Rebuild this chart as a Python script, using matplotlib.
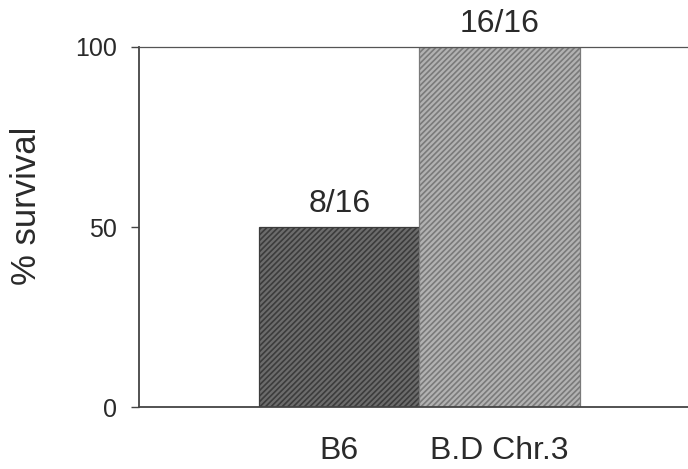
import matplotlib
matplotlib.use("Agg")
import matplotlib.pyplot as plt

categories = ["B6", "B.D Chr.3"]
survival = [50, 100]
bar_labels = ["8/16", "16/16"]
yticks = [0, 50, 100]

plt.rcParams['font.family'] = ['Liberation Sans', 'DejaVu Sans']
plt.rcParams['hatch.linewidth'] = 1.2

fig = plt.figure(figsize=(6.88, 4.69), dpi=100)
ax = fig.add_axes([139/688, 1 - 407/469, 1 - 139/688 + 0.01, (407-47)/469])

face = ['#6c6c6c', '#b2b2b2']
hatchc = ['#3c3c3c', '#7a7a7a']
x = list(range(len(categories)))
for i in x:
    ax.bar(i, survival[i], width=1.0, color=face[i], edgecolor=hatchc[i],
           hatch='//////', linewidth=0.9, zorder=2)
    ax.annotate(bar_labels[i], (i, survival[i]), xytext=(0, 15),
                textcoords='offset pixels', ha='center', va='baseline',
                fontsize=23, color='#2a2a2a',
                annotation_clip=False)

ax.set_xlim(-1.25, 2.22)
ax.set_ylim(0, 100)
ax.set_yticks(yticks)
ax.set_yticklabels([str(t) for t in yticks], fontsize=18, color='#2a2a2a')
ax.set_xticks(x)
ax.set_xticklabels(categories, fontsize=23, color='#2a2a2a')
ax.tick_params(axis='x', length=0, pad=21)
ax.tick_params(axis='y', length=6, width=1, color='#444444', pad=10)
ax.spines['right'].set_visible(False)
for s in ['left', 'bottom']:
    ax.spines[s].set_color('#444444')
    ax.spines[s].set_linewidth(1.3)
ax.spines['top'].set_color('#555555')
ax.spines['top'].set_linewidth(0.9)
ax.spines['top'].set_linestyle((0, (2, 1)))
ax.set_ylabel('% survival', fontsize=25, color='#2a2a2a')
ax.yaxis.set_label_coords(-0.172, 0.56)

fig.savefig('out.png', dpi=100)
